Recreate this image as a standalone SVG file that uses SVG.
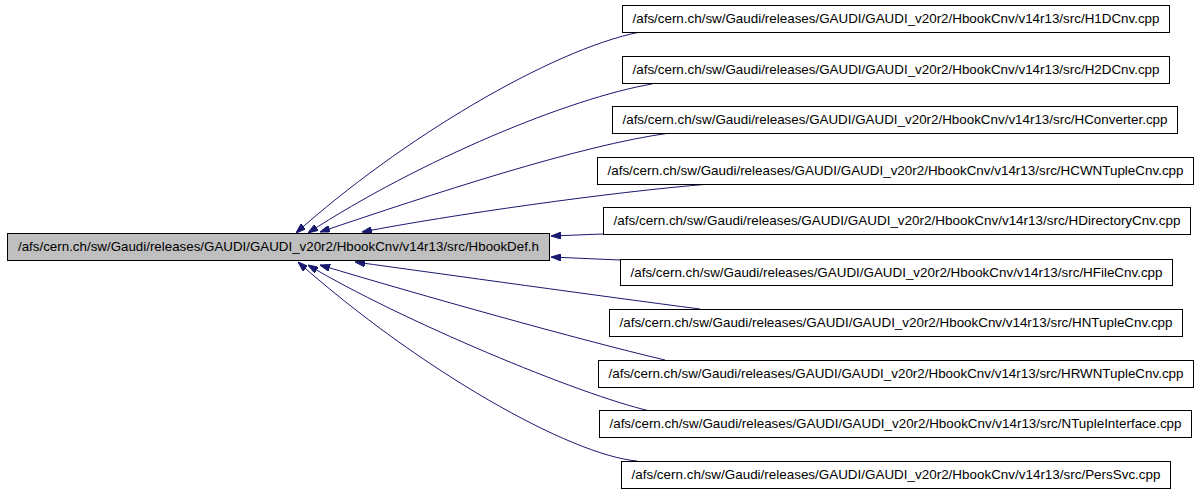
<svg xmlns="http://www.w3.org/2000/svg" width="1197" height="493" viewBox="0 0 1197 493">
<defs>
<style>
.box{fill:#ffffff;stroke:#000000;stroke-width:1}
.main{fill:#bfbfbf;stroke:#000000;stroke-width:1}
.lbl{font-family:"Liberation Sans",Arial,sans-serif;font-size:13px;fill:#000000;text-anchor:middle}
.edge{fill:none;stroke:#191970;stroke-width:1}
</style>
<marker id="ah" viewBox="0 0 10 7" refX="10" refY="3.5" markerWidth="10" markerHeight="7" markerUnits="userSpaceOnUse" orient="auto">
<path d="M0,0 L10,3.5 L0,7 z" fill="#191970" stroke="#191970" stroke-width="1"/>
</marker>
</defs>
<rect width="1197" height="493" fill="#ffffff"/>
<g id="connectors">
<path class="edge" marker-end="url(#ah)" d="M640,32 C550,50 400,140 296,233"/>
<path class="edge" marker-end="url(#ah)" d="M652,84 C570,98 420,160 308,233"/>
<path class="edge" marker-end="url(#ah)" d="M670,133 C580,145 430,195 320,232"/>
<path class="edge" marker-end="url(#ah)" d="M710,184 C610,192 450,215 362,232"/>
<path class="edge" marker-end="url(#ah)" d="M603,234 L551,236"/>
<path class="edge" marker-end="url(#ah)" d="M620,260 L551,257"/>
<path class="edge" marker-end="url(#ah)" d="M700,309 C600,296 450,275 355,262"/>
<path class="edge" marker-end="url(#ah)" d="M665,360 C580,340 420,295 320,265"/>
<path class="edge" marker-end="url(#ah)" d="M650,411 C580,395 400,320 308,265"/>
<path class="edge" marker-end="url(#ah)" d="M637,461 C570,455 420,370 298,262"/>
</g>
<g id="n0"><rect class="main" x="7.5" y="233.5" width="542" height="27"/><text class="lbl" x="278.5" y="251" textLength="521" lengthAdjust="spacingAndGlyphs">/afs/cern.ch/sw/Gaudi/releases/GAUDI/GAUDI_v20r2/HbookCnv/v14r13/src/HbookDef.h</text></g>
<g id="n1"><rect class="box" x="622.5" y="5.5" width="547" height="27"/><text class="lbl" x="896" y="23" textLength="527" lengthAdjust="spacingAndGlyphs">/afs/cern.ch/sw/Gaudi/releases/GAUDI/GAUDI_v20r2/HbookCnv/v14r13/src/H1DCnv.cpp</text></g>
<g id="n2"><rect class="box" x="622.5" y="56.5" width="547" height="27"/><text class="lbl" x="896" y="74" textLength="527" lengthAdjust="spacingAndGlyphs">/afs/cern.ch/sw/Gaudi/releases/GAUDI/GAUDI_v20r2/HbookCnv/v14r13/src/H2DCnv.cpp</text></g>
<g id="n3"><rect class="box" x="612.5" y="106.5" width="565" height="27"/><text class="lbl" x="895" y="124" textLength="545" lengthAdjust="spacingAndGlyphs">/afs/cern.ch/sw/Gaudi/releases/GAUDI/GAUDI_v20r2/HbookCnv/v14r13/src/HConverter.cpp</text></g>
<g id="n4"><rect class="box" x="597.5" y="157.5" width="596" height="27"/><text class="lbl" x="895.5" y="175" textLength="576" lengthAdjust="spacingAndGlyphs">/afs/cern.ch/sw/Gaudi/releases/GAUDI/GAUDI_v20r2/HbookCnv/v14r13/src/HCWNTupleCnv.cpp</text></g>
<g id="n5"><rect class="box" x="603.5" y="207.5" width="587" height="27"/><text class="lbl" x="897" y="225" textLength="567" lengthAdjust="spacingAndGlyphs">/afs/cern.ch/sw/Gaudi/releases/GAUDI/GAUDI_v20r2/HbookCnv/v14r13/src/HDirectoryCnv.cpp</text></g>
<g id="n6"><rect class="box" x="620.5" y="259.5" width="552" height="26"/><text class="lbl" x="896.5" y="277" textLength="532" lengthAdjust="spacingAndGlyphs">/afs/cern.ch/sw/Gaudi/releases/GAUDI/GAUDI_v20r2/HbookCnv/v14r13/src/HFileCnv.cpp</text></g>
<g id="n7"><rect class="box" x="609.5" y="309.5" width="573" height="27"/><text class="lbl" x="896" y="327" textLength="553" lengthAdjust="spacingAndGlyphs">/afs/cern.ch/sw/Gaudi/releases/GAUDI/GAUDI_v20r2/HbookCnv/v14r13/src/HNTupleCnv.cpp</text></g>
<g id="n8"><rect class="box" x="598.5" y="360.5" width="595" height="27"/><text class="lbl" x="896" y="378" textLength="575" lengthAdjust="spacingAndGlyphs">/afs/cern.ch/sw/Gaudi/releases/GAUDI/GAUDI_v20r2/HbookCnv/v14r13/src/HRWNTupleCnv.cpp</text></g>
<g id="n9"><rect class="box" x="599.5" y="410.5" width="592" height="27"/><text class="lbl" x="895.5" y="428" textLength="572" lengthAdjust="spacingAndGlyphs">/afs/cern.ch/sw/Gaudi/releases/GAUDI/GAUDI_v20r2/HbookCnv/v14r13/src/NTupleInterface.cpp</text></g>
<g id="n10"><rect class="box" x="621.5" y="461.5" width="549" height="27"/><text class="lbl" x="896" y="479" textLength="529" lengthAdjust="spacingAndGlyphs">/afs/cern.ch/sw/Gaudi/releases/GAUDI/GAUDI_v20r2/HbookCnv/v14r13/src/PersSvc.cpp</text></g>
</svg>
